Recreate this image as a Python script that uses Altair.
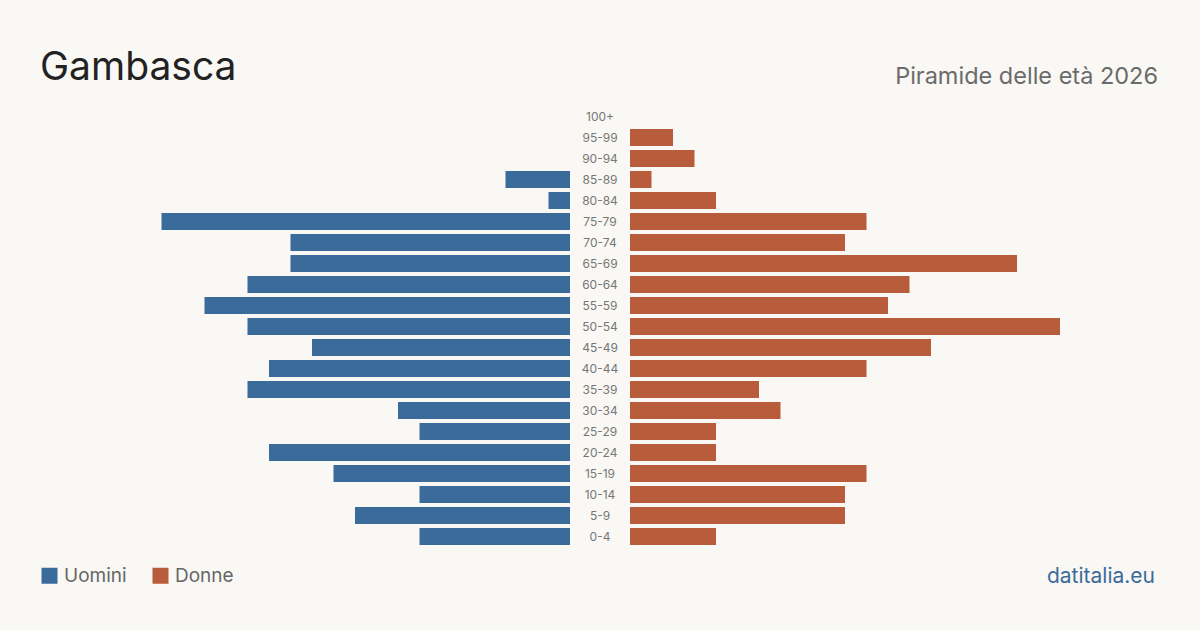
import altair as alt
import pandas as pd

# Age classes, top of the pyramid first
ages = ["100+", "95-99", "90-94", "85-89", "80-84", "75-79", "70-74", "65-69",
        "60-64", "55-59", "50-54", "45-49", "40-44", "35-39", "30-34", "25-29",
        "20-24", "15-19", "10-14", "5-9", "0-4"]
men = [0, 0, 0, 3, 1, 19, 13, 13, 15, 17, 15, 12, 14, 15, 8, 7, 14, 11, 7, 10, 7]
women = [0, 2, 3, 1, 4, 11, 10, 18, 13, 12, 20, 14, 11, 6, 7, 4, 4, 11, 10, 10, 4]

BLUE = "#3b6b9b"
ORANGE = "#b85c3c"
BG = "#f9f8f4"
FONT = "Inter"

df = pd.DataFrame({"age": ages, "Uomini": men, "Donne": women})
long_m = pd.DataFrame({"age": ages, "value": men, "sex": "Uomini"})
long_f = pd.DataFrame({"age": ages, "value": women, "sex": "Donne"})

y_enc = alt.Y("age:N", sort=ages, axis=None,
              scale=alt.Scale(domain=ages, range=[106, 547],
                              paddingInner=0.19, paddingOuter=0.095))

color_enc = alt.Color(
    "sex:N",
    scale=alt.Scale(domain=["Uomini", "Donne"], range=[BLUE, ORANGE]),
    legend=alt.Legend(
        title=None, orient="none", legendX=40, legendY=566, direction="horizontal",
        symbolType="square", symbolSize=256, symbolStrokeWidth=0, symbolOpacity=1,
        labelFont=FONT, labelFontSize=19, labelColor="#666666", labelOffset=5,
        columnPadding=24, symbolOffset=0,
    ),
)

men_bars = alt.Chart(long_m).mark_bar(cornerRadius=0).encode(
    x=alt.X("value:Q", axis=None, scale=alt.Scale(domain=[0, 24], range=[570, 54])),
    y=y_enc,
    color=color_enc,
)

women_bars = alt.Chart(long_f).mark_bar(cornerRadius=0).encode(
    x=alt.X("value:Q", axis=None, scale=alt.Scale(domain=[0, 24], range=[630, 1146])),
    y=y_enc,
    color=color_enc,
)

age_labels = alt.Chart(df).mark_text(
    font=FONT, fontSize=12, color="#777777", align="center", baseline="middle"
).encode(
    x=alt.value(600),
    y=y_enc,
    text="age:N",
)

title = alt.Chart(pd.DataFrame({"t": ["Gambasca"]})).mark_text(
    font=FONT, fontSize=39, color="#222222", align="left", baseline="alphabetic"
).encode(x=alt.value(40), y=alt.value(80), text="t:N")

subtitle = alt.Chart(pd.DataFrame({"t": ["Piramide delle età 2026"]})).mark_text(
    font=FONT, fontSize=23.5, color="#6b6b6b", align="right", baseline="alphabetic"
).encode(x=alt.value(1158), y=alt.value(84), text="t:N")

source = alt.Chart(pd.DataFrame({"t": ["datitalia.eu"]})).mark_text(
    font=FONT, fontSize=21, color=BLUE, align="right", baseline="alphabetic"
).encode(x=alt.value(1155), y=alt.value(583), text="t:N")

chart = alt.layer(men_bars, women_bars, age_labels, title, subtitle, source).resolve_scale(
    x="independent"
).properties(
    width=1200, height=630, padding=0, autosize=alt.AutoSizeParams(type="none"),
    background=BG,
).configure_view(stroke=None)

chart.save("out.html", embed_options={"renderer": "svg", "actions": False})
